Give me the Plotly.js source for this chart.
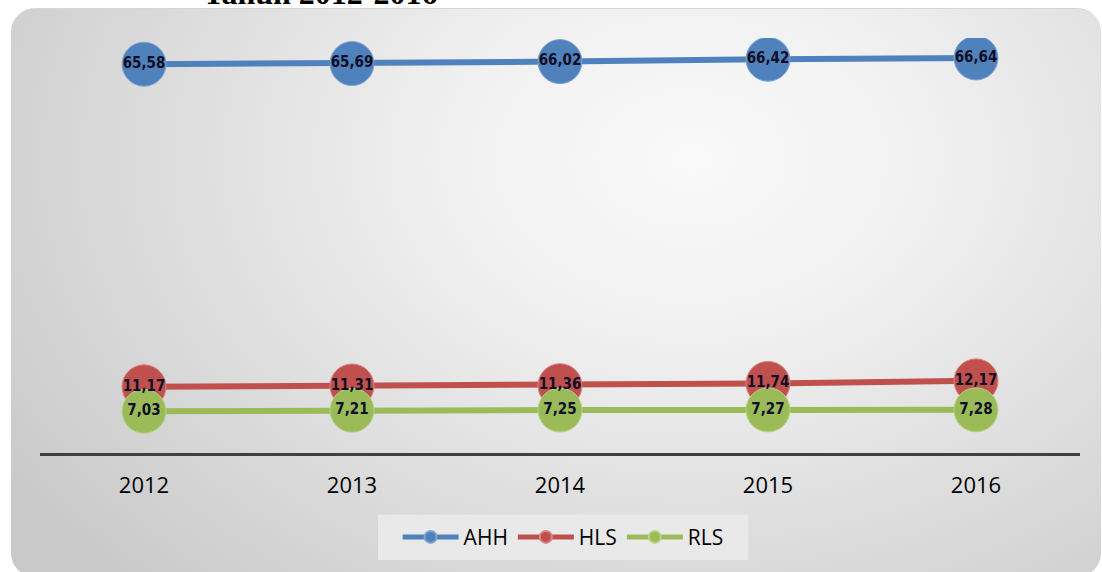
<!DOCTYPE html>
<html>
<head>
<meta charset="utf-8">
<script src="https://cdn.plot.ly/plotly-3.0.1.min.js"></script>
<style>
  html, body { margin: 0; padding: 0; background: #ffffff; width: 1102px; height: 572px; overflow: hidden; }
  #bg {
    position: absolute; left: 11px; top: 8px; width: 1090px; height: 568px;
    border-radius: 24px;
    border-top: 1px solid #d6d6d6;
    background: radial-gradient(ellipse 820px 600px at 680px 150px, #f9f9f9 0%, #f1f1f1 28%, #dfdfdf 60%, #c9c9c9 100%);
  }
  #chart { position: absolute; left: 0; top: 0; width: 1102px; height: 572px; }
</style>
</head>
<body>
<div id="bg"></div>
<div id="chart"></div>
<script>
// ---- data ----
const years = ['2012', '2013', '2014', '2015', '2016'];
const ahh = [65.58, 65.69, 66.02, 66.42, 66.64];
const hls = [11.17, 11.31, 11.36, 11.74, 12.17];
const rls = [7.03, 7.21, 7.25, 7.27, 7.28];
const seriesNames = ['AHH', 'HLS', 'RLS'];
const titleText = 'Tahun 2012-2016';

const colors = ['#4f81bd', '#c0504d', '#9bbb59'];
const edge = ['#7fa3d3', '#d98583', '#b9d28a'];
const allSeries = [ahh, hls, rls];
const fmt = v => v.toFixed(2).replace('.', ',');

const traces = [];
allSeries.forEach((vals, i) => {
  traces.push({
    type: 'scatter', mode: 'lines+markers', name: seriesNames[i],
    x: years, y: vals,
    line: { color: colors[i], width: 6 },
    marker: { color: colors[i], size: 44, line: { color: edge[i], width: 1 } },
    hoverinfo: 'x+y'
  });
});
allSeries.forEach((vals, i) => {
  traces.push({
    type: 'scatter', mode: 'text', showlegend: false,
    x: years, y: vals, text: vals.map(fmt),
    textposition: 'middle center',
    textfont: { family: 'DejaVu Sans Condensed, DejaVu Sans', size: 15, color: '#0e0e24', weight: 'bold' },
    hoverinfo: 'skip'
  });
});

const layout = {
  width: 1102, height: 572,
  margin: { l: 40, r: 22, t: 38, b: 119 },
  paper_bgcolor: 'rgba(0,0,0,0)',
  plot_bgcolor: 'rgba(0,0,0,0)',
  showlegend: true,
  xaxis: {
    type: 'category', range: [-0.5, 4.5],
    showline: true, linecolor: '#404040', linewidth: 3,
    showgrid: false, zeroline: false, ticks: '',
    ticklabelstandoff: 11,
    tickfont: { family: 'Open Sans', size: 22, color: '#000000' },
    fixedrange: true
  },
  yaxis: {
    range: [0, 70], visible: false, showgrid: false, zeroline: false, fixedrange: true
  },
  legend: {
    orientation: 'h', x: 0.503, xanchor: 'center', y: -0.203, yanchor: 'middle',
    bgcolor: 'rgba(0,0,0,0)', itemwidth: 56, itemsizing: 'constant',
    font: { family: 'Open Sans', size: 21, color: '#000000' },
    itemclick: false, itemdoubleclick: false
  },
  shapes: [{
    type: 'rect', xref: 'paper', yref: 'paper', layer: 'below',
    x0: 0.325, x1: 0.681, y0: -0.258, y1: -0.149,
    fillcolor: '#e9e9e9', line: { width: 0 }
  }],
  annotations: [{
    xref: 'paper', yref: 'paper', x: 0.155, xanchor: 'left',
    y: 1.06, yanchor: 'bottom', showarrow: false,
    text: titleText,
    font: { family: 'Liberation Serif', size: 32, color: '#000000', weight: 'bold' }
  }]
};

Plotly.newPlot('chart', traces, layout, { displayModeBar: false });
</script>
</body>
</html>
